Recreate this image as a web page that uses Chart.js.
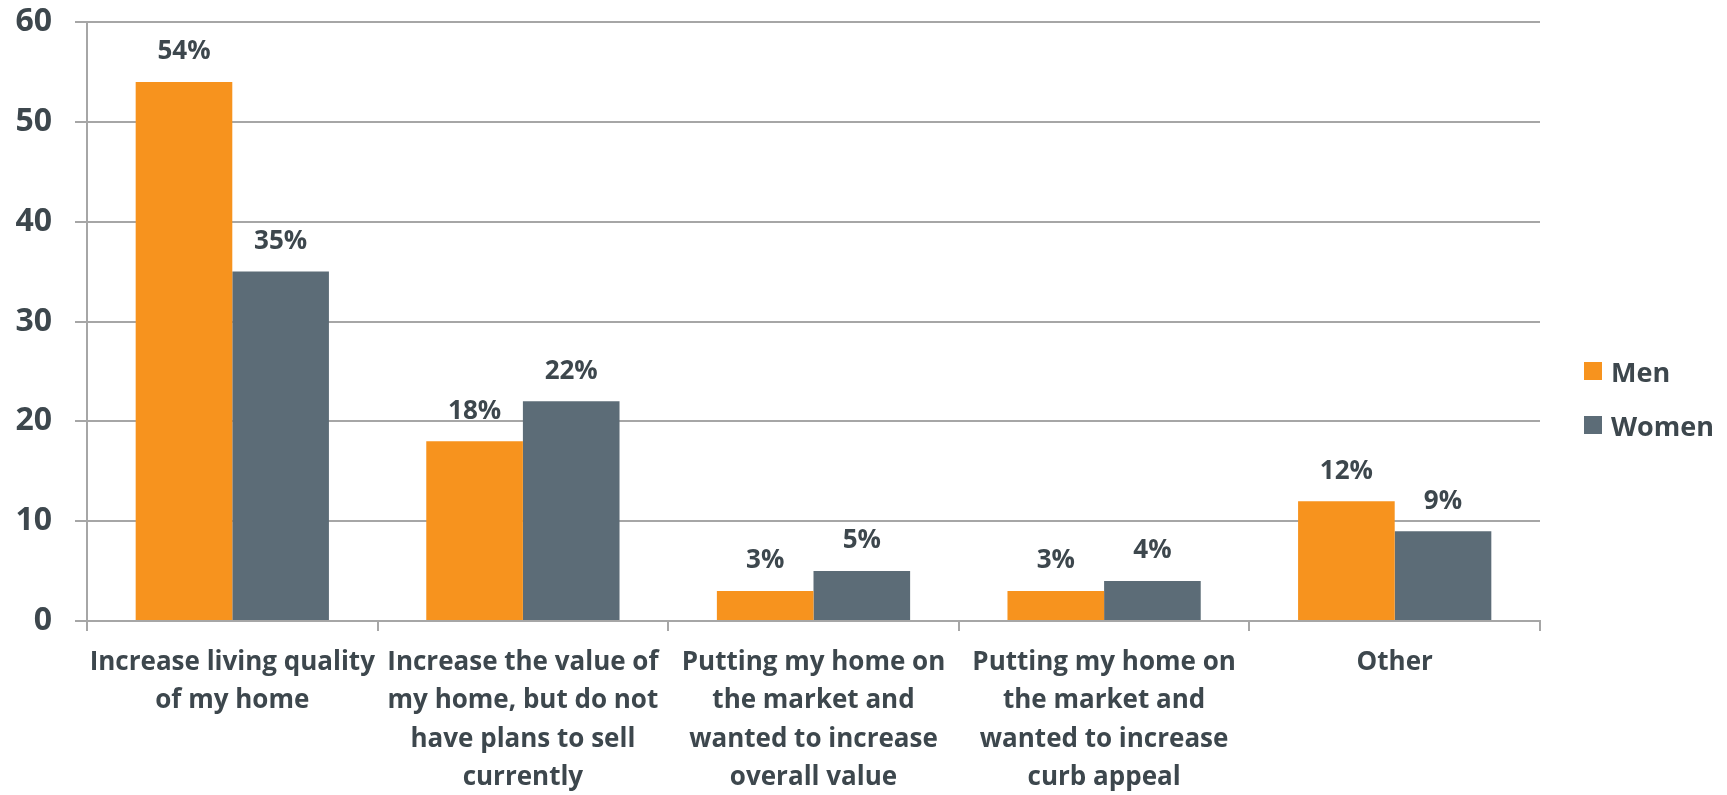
<!DOCTYPE html>
<html>
<head>
<meta charset="utf-8">
<script src="https://cdn.jsdelivr.net/npm/chart.js@4"></script>
<style>
  html, body { margin: 0; padding: 0; background: #ffffff; }
  #wrap { position: relative; width: 1727px; height: 795px; }
  #legend { position: absolute; left: 1584px; top: 353px; font: bold 27px 'Open Sans'; color: #3d474d; }
  #legend div { display: flex; align-items: center; height: 36px; margin-bottom: 18px; }
  #legend span.box { width: 18px; height: 18px; margin-right: 9px; }
</style>
</head>
<body>
<div id="wrap"><canvas id="reasons-chart"></canvas><div id="legend"></div></div>
<script>
const categories = [
  ["Increase living quality", "of my home"],
  ["Increase the value of", "my home, but do not", "have plans to sell", "currently"],
  ["Putting my home on", "the market and", "wanted to increase", "overall value"],
  ["Putting my home on", "the market and", "wanted to increase", "curb appeal"],
  ["Other"],
];
const menValues = [54, 18, 3, 3, 12];
const womenValues = [35, 22, 5, 4, 9];
const yTicks = [0, 10, 20, 30, 40, 50, 60];

const textColor = "#3d474d";
const gridColor = "#a6a6a6";

// percent labels above each bar
const barLabels = {
  id: "barLabels",
  afterDatasetsDraw(chart) {
    const ctx = chart.ctx;
    ctx.save();
    ctx.font = "bold 26px 'Open Sans'";
    ctx.fillStyle = textColor;
    ctx.textAlign = "center";
    ctx.textBaseline = "middle";
    chart.data.datasets.forEach((ds, i) => {
      chart.getDatasetMeta(i).data.forEach((bar, j) => {
        ctx.fillText(ds.data[j] + "%", bar.x, bar.y - 30);
      });
    });
    ctx.restore();
  },
};

const reasonsChart = new Chart(document.getElementById("reasons-chart"), {
  type: "bar",
  data: {
    labels: categories,
    datasets: [
      {
        label: "Men",
        data: menValues,
        backgroundColor: "#f7931e",
        borderWidth: 0,
        categoryPercentage: 0.665,
        barPercentage: 1,
      },
      {
        label: "Women",
        data: womenValues,
        backgroundColor: "#5c6c77",
        borderWidth: 0,
        categoryPercentage: 0.665,
        barPercentage: 1,
      },
    ],
  },
  options: {
    responsive: true,
    maintainAspectRatio: false,
    animation: false,
    layout: {
      padding: { top: 0, left: 0, right: 187, bottom: 0 },
    },
    plugins: {
      tooltip: { enabled: false },
      legend: { display: false },
    },
    scales: {
      x: {
        afterFit(scale) {
          scale.height = 174;
        },
        grid: {
          drawOnChartArea: false,
          drawTicks: true,
          tickLength: 10,
          color: gridColor,
          lineWidth: 2,
        },
        border: { color: gridColor, width: 2 },
        ticks: {
          color: textColor,
          maxRotation: 0,
          autoSkip: false,
          padding: 12,
          font: { family: "'Open Sans'", size: 26, weight: "bold", lineHeight: 1.48 },
        },
      },
      y: {
        min: 0,
        max: 60,
        afterBuildTicks(axis) {
          axis.ticks = yTicks.map((v) => ({ value: v }));
        },
        afterFit(scale) {
          scale.width = 87;
          scale.paddingTop = 22;
          scale.paddingBottom = 0;
        },
        grid: {
          color: gridColor,
          lineWidth: 2,
          tickLength: 12,
        },
        border: { color: gridColor, width: 2 },
        ticks: {
          color: textColor,
          padding: 23,
          font: { family: "'Open Sans'", size: 32, weight: "bold" },
        },
      },
    },
  },
  plugins: [barLabels],
});

// legend built from the chart's datasets
const legendEl = document.getElementById("legend");
reasonsChart.data.datasets.forEach((ds) => {
  const row = document.createElement("div");
  row.innerHTML = `<span class="box" style="background:${ds.backgroundColor}"></span>${ds.label}`;
  legendEl.appendChild(row);
});
</script>
</body>
</html>
